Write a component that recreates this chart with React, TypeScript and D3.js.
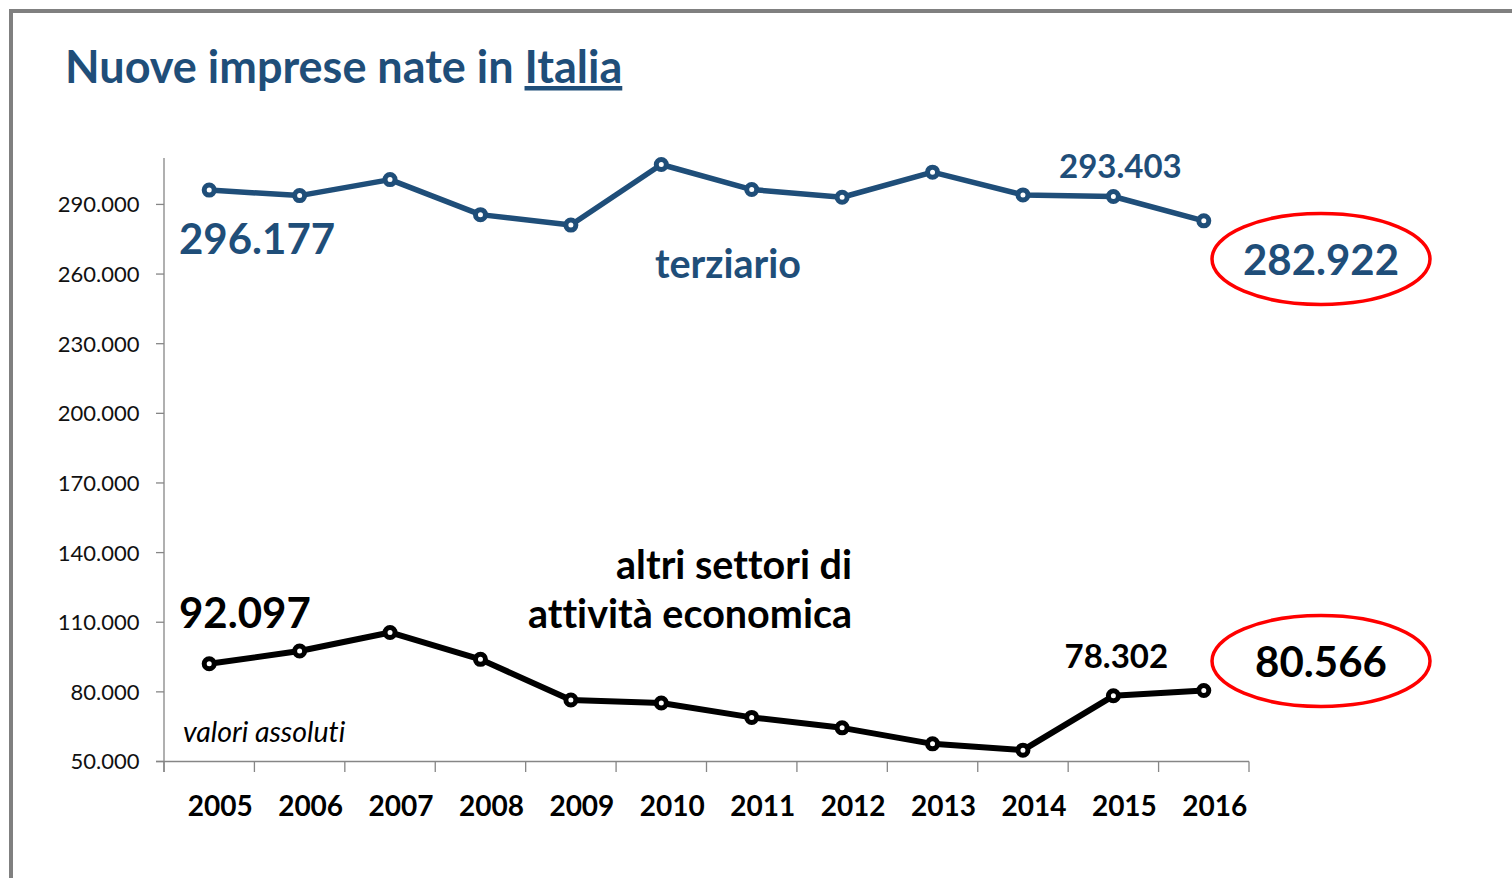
import React from "react";
import * as d3 from "d3";

const years = ["2005", "2006", "2007", "2008", "2009", "2010", "2011", "2012", "2013", "2014", "2015", "2016"];
const terziario = [296177, 293800, 300700, 285600, 281100, 307200, 296400, 293100, 303900, 294100, 293403, 282922];
const altriSettori = [92097, 97600, 105600, 94000, 76500, 75200, 69000, 64500, 57600, 54900, 78302, 80566];
const yTicks = [50000, 80000, 110000, 140000, 170000, 200000, 230000, 260000, 290000];

const BLUE = "#1F4E79";
const FONT = "Lato, 'Open Sans', sans-serif";

const itFormat = d3.formatLocale({ decimal: ",", thousands: ".", grouping: [3], currency: ["€", ""] }).format(",d");

export default function App() {
  const width = 1512;
  const height = 878;

  const x = d3.scaleBand().domain(years).range([164, 1249]);
  const y = d3.scaleLinear().domain([50000, 310000]).range([761.5, 158]);
  const cx = (d: string) => (x(d) as number) + x.bandwidth() / 2;

  const line = d3
    .line<number>()
    .x((_, i) => cx(years[i]))
    .y((d) => y(d));

  const last = years.length - 1;
  const bounds = years.map((d) => x(d) as number).concat([x.range()[1]]);

  return (
    <div>
      <style>{`body{margin:0}`}</style>
      <svg
        width={width}
        height={height}
        style={{ display: "block", fontFamily: FONT, fontVariantLigatures: "none" }}
      >
        <rect x={0} y={0} width={width} height={height} fill="#fff" />
        {/* cornice */}
        <rect x={11} y={11} width={width + 20} height={height + 20} fill="none" stroke="#808080" strokeWidth={4} />

        <text x={65} y={83} fontSize={45} fontWeight="bold" fill={BLUE}>
          Nuove imprese nate in <tspan textDecoration="underline">Italia</tspan>
        </text>

        {/* assi */}
        <line x1={164} x2={164} y1={y(310000)} y2={772} stroke="#868686" strokeWidth={1.3} />
        <line x1={156} x2={x.range()[1]} y1={y(50000)} y2={y(50000)} stroke="#868686" strokeWidth={1.3} />
        {yTicks.map((t) => (
          <g key={t}>
            <line x1={156} x2={164} y1={y(t)} y2={y(t)} stroke="#868686" strokeWidth={1.3} />
            <text x={139.5} y={y(t)} dy="0.36em" textAnchor="end" fontSize={22} fill="#111">
              {itFormat(t)}
            </text>
          </g>
        ))}
        {bounds.map((b, i) => (
          <line key={i} x1={b} x2={b} y1={y(50000)} y2={772} stroke="#868686" strokeWidth={1.3} />
        ))}
        {years.map((d) => (
          <text key={d} x={cx(d) + 11} y={816} textAnchor="middle" fontSize={28} fontWeight="bold" fill="#000">
            {d}
          </text>
        ))}

        {/* serie */}
        <path d={line(terziario) || ""} fill="none" stroke={BLUE} strokeWidth={5.5} strokeLinejoin="round" />
        {terziario.map((v, i) => (
          <circle key={i} cx={cx(years[i])} cy={y(v)} r={5} fill="#fff" stroke={BLUE} strokeWidth={5} />
        ))}
        <path d={line(altriSettori) || ""} fill="none" stroke="#000" strokeWidth={6} strokeLinejoin="round" />
        {altriSettori.map((v, i) => (
          <circle key={i} cx={cx(years[i])} cy={y(v)} r={5} fill="#fff" stroke="#000" strokeWidth={5} />
        ))}

        {/* etichette terziario */}
        <text x={179} y={254} fontSize={42} fontWeight="bold" fill={BLUE}>{itFormat(terziario[0])}</text>
        <text x={cx(years[last - 1]) + 7} y={178} textAnchor="middle" fontSize={33} fontWeight="bold" fill={BLUE}>
          {itFormat(terziario[last - 1])}
        </text>
        <text x={728} y={278} textAnchor="middle" fontSize={39.5} fontWeight="bold" fill={BLUE}>terziario</text>
        <ellipse cx={1321} cy={259} rx={109} ry={45.5} fill="none" stroke="#FF0000" strokeWidth={3.5} />
        <text x={1321} y={275} textAnchor="middle" fontSize={42} fontWeight="bold" fill={BLUE}>
          {itFormat(terziario[last])}
        </text>

        {/* etichette altri settori */}
        <text x={179} y={628} fontSize={42} fontWeight="bold" fill="#000">{itFormat(altriSettori[0])}</text>
        <text x={852} y={579} textAnchor="end" fontSize={39.5} fontWeight="bold" fill="#000">altri settori di</text>
        <text x={852} y={628} textAnchor="end" fontSize={39.5} fontWeight="bold" fill="#000">attività economica</text>
        <text x={cx(years[last - 1]) + 3} y={668} textAnchor="middle" fontSize={33} fontWeight="bold" fill="#000">
          {itFormat(altriSettori[last - 1])}
        </text>
        <ellipse cx={1321} cy={661} rx={109} ry={45.5} fill="none" stroke="#FF0000" strokeWidth={3.5} />
        <text x={1321} y={677} textAnchor="middle" fontSize={42} fontWeight="bold" fill="#000">
          {itFormat(altriSettori[last])}
        </text>
        <text x={183} y={742} fontSize={28.5} fontStyle="italic" fill="#000">valori assoluti</text>
      </svg>
    </div>
  );
}
